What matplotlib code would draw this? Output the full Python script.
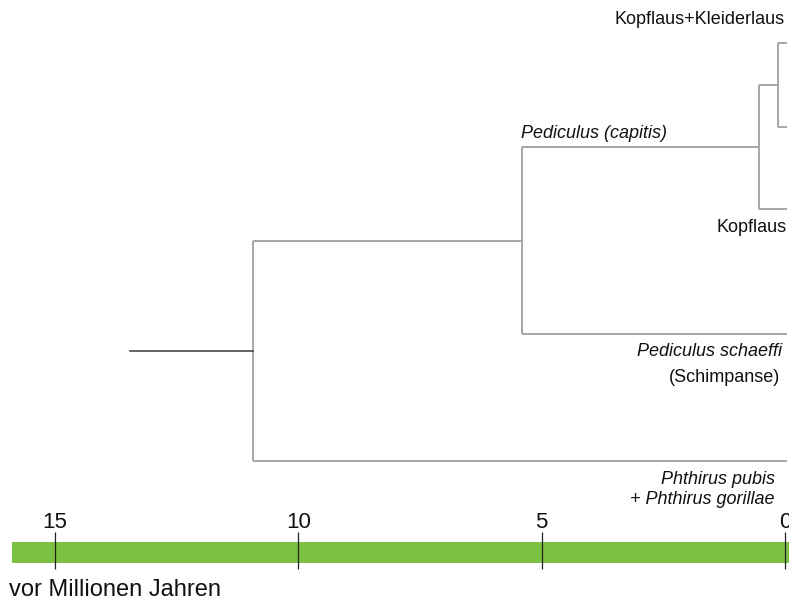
import matplotlib
matplotlib.use("Agg")
import matplotlib.pyplot as plt

plt.rcParams['font.family'] = ['Liberation Sans', 'DejaVu Sans']

# Stammbaum der Läuse (Alter in Millionen Jahren, Zeilen in Bildhöhe)
tip_names = ["Kopflaus+Kleiderlaus (1)", "Kopflaus+Kleiderlaus (2)", "Kopflaus",
             "Pediculus schaeffi", "Phthirus"]
tip_rows = [43, 127, 209, 334, 461]
tip_age = -0.05

# innere Knoten: Alter und Kinder (Tip-Index oder Knotenname)
node_ages = {"kk": 0.14, "kopf": 0.53, "pedi": 5.41, "root": 10.94}
node_children = {
    "kk": [0, 1],
    "kopf": ["kk", 2],
    "pedi": ["kopf", 3],
    "root": ["pedi", 4],
}
root_start = 13.46

scale_ticks = [15, 10, 5, 0]
scale_start = 15.88

fig = plt.figure(figsize=(7.89, 6.05), dpi=100)
ax = fig.add_axes([0, 0, 1, 1])
ax.set_xlim(16.13, -0.082)
ax.set_ylim(605, 0)
ax.axis("off")

branch_col = "#a6a6a6"
lw = 1.4

rows = {}
def row_of(c):
    if isinstance(c, int):
        return tip_rows[c]
    return rows[c]

for name in ["kk", "kopf", "pedi", "root"]:
    age = node_ages[name]
    ys = [row_of(c) for c in node_children[name]]
    rows[name] = (ys[0] + ys[1]) / 2
    ax.plot([age, age], [ys[0], ys[1]], color=branch_col, lw=lw, solid_capstyle="butt")
    for c in node_children[name]:
        end = tip_age if isinstance(c, int) else node_ages[c]
        ax.plot([age, end], [row_of(c)] * 2, color=branch_col, lw=lw, solid_capstyle="butt")

# Wurzel
ax.plot([root_start, node_ages["root"]], [rows["root"]] * 2, color="#3a3a3a", lw=1.1)

# Zeitleiste
ax.barh(552, width=scale_start - (-0.2), left=-0.2, height=21, color="#7cc142")
ax.vlines(scale_ticks, 532, 569, color="#222222", lw=0.9)
for t in scale_ticks:
    ax.text(t, 522, str(t), ha="center", va="center", fontsize=16, color="#111111")
ax.text(0.012, 0.024, "vor Millionen Jahren", transform=fig.transFigure,
        ha="left", va="center", fontsize=17, color="#111111")

# Beschriftungen
txt = dict(fontsize=13, color="#111111")
ax.text(0.003, 20, "Kopflaus+Kleiderlaus", ha="right", va="center", **txt)
ax.text(node_ages["pedi"] + 0.02, 133, "Pediculus (capitis)", ha="left", va="center",
        style="italic", **txt)
ax.text(-0.04, 228, "Kopflaus", ha="right", va="center", **txt)
ax.text(0.07, 352, "Pediculus schaeffi", ha="right", va="center", style="italic", **txt)
ax.text(0.1, 378, "(Schimpanse)", ha="right", va="center", **txt)
ax.text(0.2, 479, "Phthirus pubis", ha="right", va="center", style="italic", **txt)
ax.text(0.22, 499, "+ Phthirus gorillae", ha="right", va="center", style="italic", **txt)

fig.savefig("out.png", dpi=100)
